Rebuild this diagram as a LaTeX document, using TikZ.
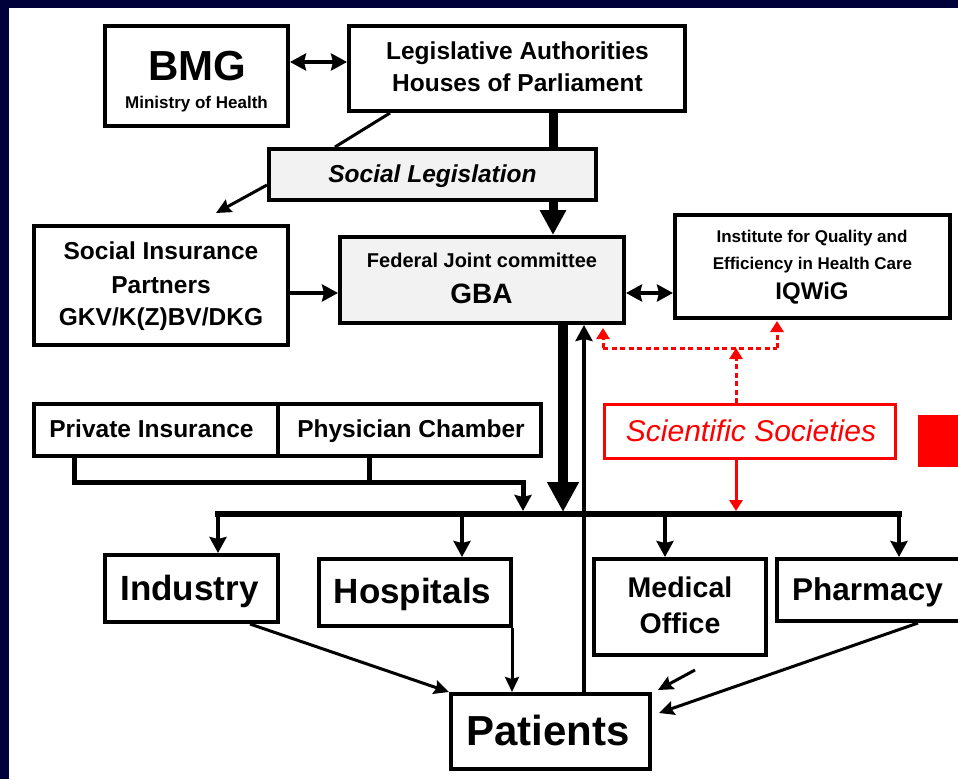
\documentclass[tikz,border=0pt]{standalone}
\usepackage{fontspec}
\setmainfont{Liberation Sans}
\usetikzlibrary{arrows.meta}
\definecolor{navy}{RGB}{0,0,58}
\definecolor{panelgray}{RGB}{242,242,242}
\definecolor{sred}{RGB}{255,0,0}
\newcommand\fsz[1]{\fontsize{#1}{#1}\selectfont}
\begin{document}
\begin{tikzpicture}[x=1pt,y=-1pt,
  box/.style={draw=black,line width=4pt,fill=white,inner sep=0pt},
  graybox/.style={box,fill=panelgray},
  redbox/.style={draw=sred,line width=3pt,fill=white,inner sep=0pt},
  txt/.style={anchor=base,inner sep=0pt,font=\bfseries\fsz{#1}},
  link/.style={line width=4pt},
  tipm/.style={-{Stealth[length=16pt,width=17pt,inset=2pt]}},
  biarrow/.style={{Stealth[length=16pt,width=17pt,inset=2pt]}-{Stealth[length=16pt,width=17pt,inset=2pt]}},
  thinarrow/.style={line width=3pt,-{Stealth[length=15pt,width=14pt,inset=2pt]}},
  reddot/.style={draw=sred,line width=3pt,dash pattern=on 5pt off 3.5pt},
  redtip/.style={-{Triangle[length=11pt,width=13pt]}}
]
\useasboundingbox (0,0) rectangle (958,779);
\clip (0,0) rectangle (958,779);
% frame and page
\fill[navy] (0,0) rectangle (958,779);
\fill[white] (9,8) rectangle (958,779);

% boxes
\node[box,minimum width=183pt,minimum height=100pt] (bmg) at (196.5,76) {};
\node[box,minimum width=336pt,minimum height=85pt] (legis) at (517,68.5) {};
\node[graybox,minimum width=327pt,minimum height=51pt] (socleg) at (432.5,174.5) {};
\node[box,minimum width=254pt,minimum height=119pt] (sip) at (161,285.5) {};
\node[graybox,minimum width=284pt,minimum height=86pt] (gba) at (482,280) {};
\node[box,minimum width=275pt,minimum height=103pt] (iqwig) at (812.5,266.5) {};
\node[redbox,minimum width=291pt,minimum height=54pt] (sci) at (750,431.5) {};
\node[box,minimum width=244pt,minimum height=52pt] (priv) at (156,430) {};
\node[box,minimum width=263pt,minimum height=52pt] (phys) at (409.5,430) {};
\node[box,minimum width=173pt,minimum height=67pt] (ind) at (191.5,588.5) {};
\node[box,minimum width=192pt,minimum height=67pt] (hosp) at (415,592.5) {};
\node[box,minimum width=172pt,minimum height=96pt] (medo) at (680,607) {};
\node[box,minimum width=221pt,minimum height=62pt] (pharm) at (887.5,590) {};
\node[box,minimum width=199pt,minimum height=75pt] (pat) at (550.5,731.5) {};
\node[fill=sred,minimum width=45pt,minimum height=52pt,inner sep=0pt] (sq) at (940.5,441) {};

% labels
\node[txt=42] (tBMG) at (197,80) {BMG};
\node[txt=17] (tMoH) at (196.5,108) {Ministry of Health};
\node[txt=24.5] (tLA) at (517.5,59) {Legislative Authorities};
\node[txt=24.5] (tHP) at (517.5,91) {Houses of Parliament};
\node[txt=24.5,font=\bfseries\itshape\fsz{24.5}] (tSL) at (432.5,182) {Social Legislation};
\node[txt=24.5] (tSI1) at (161,259) {Social Insurance};
\node[txt=24.5] (tSI2) at (161,293) {Partners};
\node[txt=24.5] (tSI3) at (161,325) {GKV/K(Z)BV/DKG};
\node[txt=20] (tFJ) at (482,267) {Federal Joint committee};
\node[txt=28] (tGBA) at (481.5,303) {GBA};
\node[txt=17] (tIQ1) at (812,242) {Institute for Quality and};
\node[txt=17] (tIQ2) at (812.5,269) {Efficiency in Health Care};
\node[txt=24] (tIQ3) at (812,299) {IQWiG};
\node[anchor=base,inner sep=0pt,font=\itshape\fsz{30},text=sred] (tSS) at (751,441) {Scientific Societies};
\node[txt=24.5] (tPI) at (151.5,437) {Private Insurance};
\node[txt=24.5] (tPC) at (411,437) {Physician Chamber};
\node[txt=35] (tInd) at (189.5,600) {Industry};
\node[txt=35] (tHos) at (412.5,603) {Hospitals};
\node[txt=28.5] (tMed) at (680,597) {Medical};
\node[txt=28.5] (tOff) at (680,633) {Office};
\node[txt=31.5] (tPh) at (867.5,600) {Pharmacy};
\node[txt=42] (tPat) at (548,745) {Patients};

% legislation and committee links
\draw[link,biarrow] (bmg.east |- 0,62) -- (legis.west |- 0,62);
\draw[line width=3pt] (390,0 |- legis.south) -- (335,0 |- socleg.north);
\draw[line width=9pt] (553,0 |- legis.south) -- (553,0 |- socleg.north);
\draw[line width=9pt,-{Triangle[length=25pt,width=25pt]}] (553,0 |- socleg.south) -- (553,0 |- gba.north);
\coordinate (sipIn) at (216,213);
\draw[thinarrow] (socleg.west |- 0,185) -- (sipIn);
\draw[link,tipm] (sip.east |- 0,293) -- (gba.west |- 0,293);
\draw[link,biarrow] (gba.east |- 0,293) -- (iqwig.west |- 0,293);

% scientific societies
\coordinate (rJ) at (736,348);
\coordinate (rL) at (603,348);
\coordinate (rR) at (777,348);
\coordinate (busL) at (218,514);
\coordinate (busR) at (899,514);
\draw[reddot,redtip] (sci.north -| rJ) -- (rJ);
\draw[reddot] (rL) -- (rR);
\draw[reddot,redtip,shorten >=3pt] (rL) -- (rL |- gba.south);
\draw[reddot,redtip,shorten >=1pt] (rR) -- (rR |- iqwig.south);
\draw[draw=sred,line width=3pt,redtip,shorten >=3pt] (sci.south -| rJ) -- (rJ |- busL);

% distribution bus
\draw[line width=10pt,-{Triangle[length=30pt,width=30pt]},shorten >=2pt] (563,0 |- gba.south) -- (563,0 |- busL);
\draw[link,tipm] (584,0 |- pat.north) -- (584,0 |- gba.south);
\draw[line width=5pt,tipm,shorten >=3pt] (74,0 |- priv.south) |- (523,482) -- (523,0 |- busL);
\draw[line width=5pt] (369,0 |- phys.south) -- (369,482);
\draw[line width=6.5pt,line cap=rect] (busL) -- (busR);
\draw[link,tipm] (busL) -- (busL |- ind.north);
\draw[link,tipm] (462,0 |- busL) -- (462,0 |- hosp.north);
\draw[link,tipm] (665,0 |- busL) -- (665,0 |- medo.north);
\draw[link,tipm] (busR) -- (busR |- pharm.north);

% towards the patients
\draw[thinarrow] (250,0 |- ind.south) -- (pat.north west);
\draw[thinarrow] (512,0 |- hosp.south) -- (512,0 |- pat.north);
\coordinate (moOut) at (695,670);
\draw[thinarrow] (moOut) -- ([xshift=6pt,yshift=2pt]pat.north east);
\draw[thinarrow] (918,0 |- pharm.south) -- ([xshift=7pt,yshift=18.5pt]pat.east);
\end{tikzpicture}
\end{document}
